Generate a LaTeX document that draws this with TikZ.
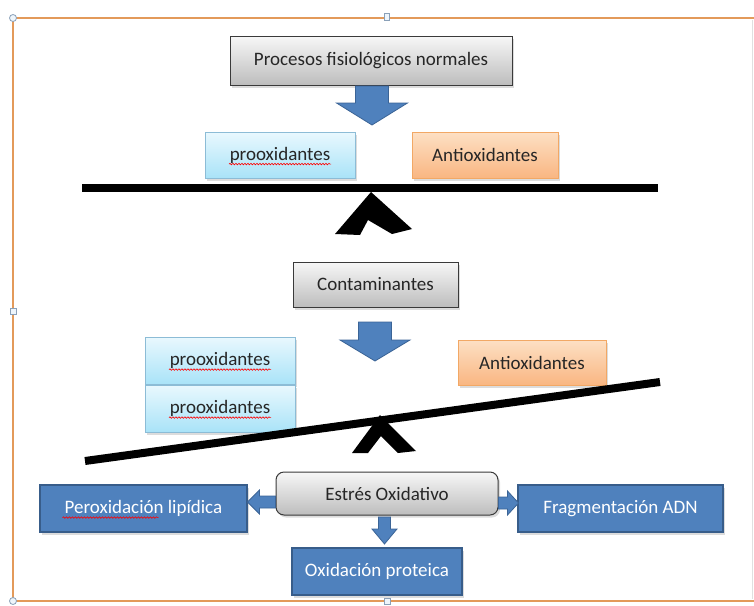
\documentclass[tikz,border=0pt]{standalone}
\usepackage{fontspec}
\setmainfont{Carlito}
\usetikzlibrary{shadows,calc,decorations.pathmorphing}
\definecolor{frameor}{HTML}{E39A5A}
\definecolor{txt}{HTML}{262626}
\definecolor{grayTop}{HTML}{F7F7F7}
\definecolor{grayBot}{HTML}{BDBDBD}
\definecolor{grayLine}{HTML}{3A3A3A}
\definecolor{cyanTop}{HTML}{E9F8FE}
\definecolor{cyanBot}{HTML}{A9E3F8}
\definecolor{cyanLine}{HTML}{8CBCD6}
\definecolor{orTop}{HTML}{FDE0C4}
\definecolor{orBot}{HTML}{F9B682}
\definecolor{orLine}{HTML}{F2A865}
\definecolor{blueFill}{HTML}{4F81BD}
\definecolor{blueLine}{HTML}{385D8A}
\definecolor{arrowLine}{HTML}{3B6496}
\definecolor{handleLine}{HTML}{8AA0B8}
\definecolor{handleFill}{HTML}{EEF5FB}
\tikzset{
  basebox/.style={inner sep=0pt, text=txt,
    drop shadow={shadow xshift=2pt, shadow yshift=-2.5pt, opacity=.28}},
  graybox/.style={basebox, draw=grayLine, line width=1pt, top color=grayTop, bottom color=grayBot},
  cyanbox/.style={basebox, draw=cyanLine, line width=.8pt, top color=cyanTop, bottom color=cyanBot},
  orbox/.style={basebox, draw=orLine, line width=.8pt, top color=orTop, bottom color=orBot},
  bluebox/.style={basebox, draw=blueLine, line width=1.2pt, fill=blueFill, text=white},
  arrowstyle/.style={fill=blueFill, draw=arrowLine, line width=.8pt},
  beam/.style={line width=8pt, black},
  fulcrum/.style={fill=black},
  spell/.style={draw=red, line width=.6pt, decorate,
    decoration={snake, segment length=3pt, amplitude=.8pt}},
  handle/.style={draw=handleLine, fill=handleFill, line width=.8pt},
  pics/darrow/.style n args={4}{code={
    \path[arrowstyle] (-#2,0) -- (#2,0) -- (#2,#1) -- (#4,#1) -- (0,{#1+#3})
      -- (-#4,#1) -- (-#2,#1) -- cycle;
  }},
  pics/harrow/.style n args={4}{code={
    \path[arrowstyle] (0,-#2) -- (0,#2) -- (#1,#2) -- (#1,#4) -- ({#1+#3},0)
      -- (#1,-#4) -- (#1,-#2) -- cycle;
  }},
}
\begin{document}
\begin{tikzpicture}[x=1pt, y=-1pt, font=\fontsize{19}{22}\selectfont]
\useasboundingbox (0,0) rectangle (754,605);
% frame
\draw[black!12, line width=.8pt] (752,20) -- (752,599);
\draw[frameor, line width=1.6pt] (13,18) -- (754,18);
\draw[frameor, line width=1.6pt] (13,18) -- (13,601) -- (754,601);
\path[handle] (13,18) circle (3.5);
\path[handle] (384.5,13.5) rectangle (389.5,20.5);
\path[handle] (10,308) rectangle (16,314);
\path[handle] (13,601) circle (3.5);
\path[handle] (384,598) rectangle (390,604);

% upper balance
\node[graybox, minimum width=282pt, minimum height=49pt] (top) at (371,60.5) {Procesos fisiológicos normales};
\pic at (372,86) {darrow={17}{16.5}{22}{35.5}};
\node[cyanbox, minimum width=150pt, minimum height=46pt] (pro1) at (280,155) {prooxidantes};
\node[orbox, minimum width=146pt, minimum height=46pt] (anti1) at (485,155) {Antioxidantes};
\draw[spell] ($(pro1.base)+(-51,4)$) -- ($(pro1.base)+(51,4)$);
\coordinate (b1l) at (82,188);
\coordinate (b1r) at (658,188);
\draw[beam] (b1l) -- (b1r);
\path[fulcrum] (335,234) -- (371,192) -- (412,229) -- (392,234) -- (368,220)
  -- (360,235) -- cycle;

% lower balance
\node[graybox, minimum width=165pt, minimum height=45pt] (cont) at (375.5,284.5) {Contaminantes};
\pic at (375,322) {darrow={18}{16.5}{21}{35}};
\node[cyanbox, minimum width=150pt, minimum height=47pt] (pro2a) at (220,360.5) {prooxidantes};
\node[cyanbox, minimum width=150pt, minimum height=47pt] (pro2b) at (220,408.5) {prooxidantes};
\node[orbox, minimum width=148pt, minimum height=45pt] (anti2) at (532,362.5) {Antioxidantes};
\draw[spell] ($(pro2a.base)+(-51,4)$) -- ($(pro2a.base)+(51,4)$);
\draw[spell] ($(pro2b.base)+(-51,4)$) -- ($(pro2b.base)+(51,4)$);
\coordinate (b2l) at (85,461);
\coordinate (b2r) at (660,382);
\draw[beam] (b2l) -- (b2r);
\path[fulcrum] (352,453) -- (380,415) -- (416,451) -- (398,453) -- (381,436)
  -- (368,453) -- cycle;

% consequences
\node[graybox, rounded corners=8pt, minimum width=222pt, minimum height=43pt] (estres) at (387,493.5) {Estrés Oxidativo};
\node[bluebox, minimum width=207pt, minimum height=47pt] (pero) at (143.5,508.5) {Peroxidación lipídica};
\node[bluebox, minimum width=205pt, minimum height=47pt] (frag) at (620.5,508.5) {Fragmentación ADN};
\node[bluebox, minimum width=170pt, minimum height=47pt] (oxi) at (377,571.5) {Oxidación proteica};
\draw[spell] ($(pero.base)+(-81,4)$) -- ($(pero.base)+(15,4)$);
\pic[xscale=-1] at (estres.west |- 0,502) {harrow={16}{6}{12}{12}};
\pic at (estres.east |- 0,503) {harrow={9}{6}{11}{12}};
\pic at (384.5,517) {darrow={12}{6}{15}{12.5}};
\end{tikzpicture}
\end{document}
